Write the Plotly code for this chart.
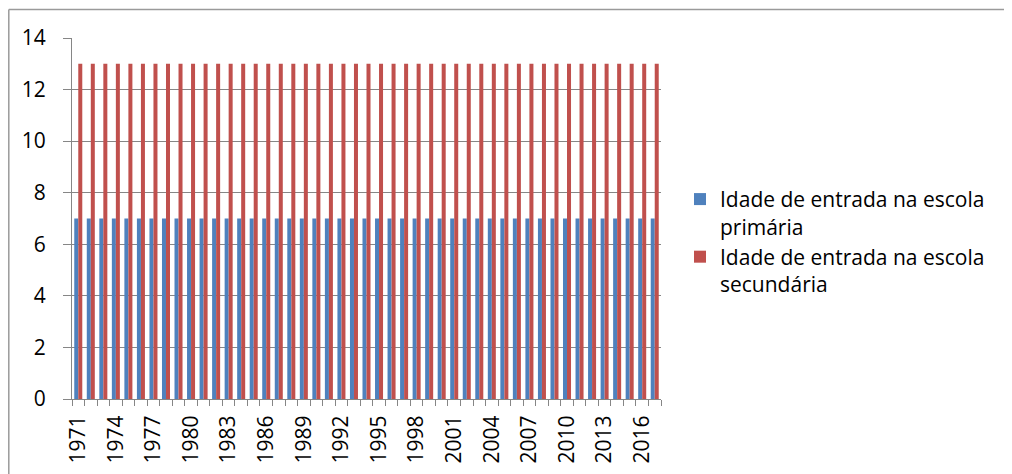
import plotly.graph_objects as go

anos = list(range(1971, 2018))
primaria = [7] * len(anos)
secundaria = [13] * len(anos)
rotulos_x = list(range(1971, 2018, 3))

fonte = dict(family="Open Sans, Noto Sans, sans-serif", size=21, color="#000000")
cinza = "#868686"

# a página tem 8px de margem no body, por isso tudo é deslocado 8px
W, H = 1004, 466
ml, mt = 64, 30
pw, ph = 589, 361

fig = go.Figure()
fig.add_trace(go.Bar(name="Idade de entrada na escola<br>primária", x=anos, y=primaria,
                     marker=dict(color="#4F81BD", line=dict(width=0))))
fig.add_trace(go.Bar(name="Idade de entrada na escola<br>secundária", x=anos, y=secundaria,
                     marker=dict(color="#C0504D", line=dict(width=0))))

fig.update_layout(
    width=W, height=H,
    margin=dict(l=ml, r=W - ml - pw, t=mt, b=H - mt - ph),
    paper_bgcolor="white", plot_bgcolor="white",
    font=fonte,
    barmode="group", bargap=0.36, bargroupgap=0,
    legend=dict(xref="container", yref="container", x=672 / W, y=0.498, xanchor="left", yanchor="middle",
                valign="top", tracegroupgap=14, font=fonte, itemwidth=30),
    shapes=[
        dict(type="line", xref="paper", yref="paper", x0=(0.8 - ml) / pw, x1=(W - ml) / pw,
             y0=(H - 1.5 - (H - mt - ph)) / ph, y1=(H - 1.5 - (H - mt - ph)) / ph,
             line=dict(color="#9a9a9a", width=1.5)),
        dict(type="line", xref="paper", yref="paper", x0=(0.8 - ml) / pw, x1=(0.8 - ml) / pw,
             y0=(H - 1.5 - (H - mt - ph)) / ph, y1=-(H - mt - ph) / ph,
             line=dict(color="#9a9a9a", width=1.5)),
    ],
)

fig.update_xaxes(
    range=[1970.5, 2017.5], tickvals=rotulos_x, ticktext=[str(a) for a in rotulos_x],
    tickangle=-90, ticks="", showgrid=False, showline=True, linecolor=cinza, linewidth=1,
    minor=dict(tick0=1970.5, dtick=1, ticks="outside", ticklen=6, tickcolor=cinza, showgrid=False),
    ticklabelstandoff=7, tickfont=fonte,
)
fig.update_yaxes(
    range=[0, 14], dtick=2, showgrid=True, gridcolor=cinza, gridwidth=1,
    showline=True, linecolor=cinza, linewidth=1, ticks="outside", ticklen=8, tickcolor=cinza,
    ticklabelstandoff=13, zeroline=False, tickfont=fonte,
)

fig.write_html("out.html")
